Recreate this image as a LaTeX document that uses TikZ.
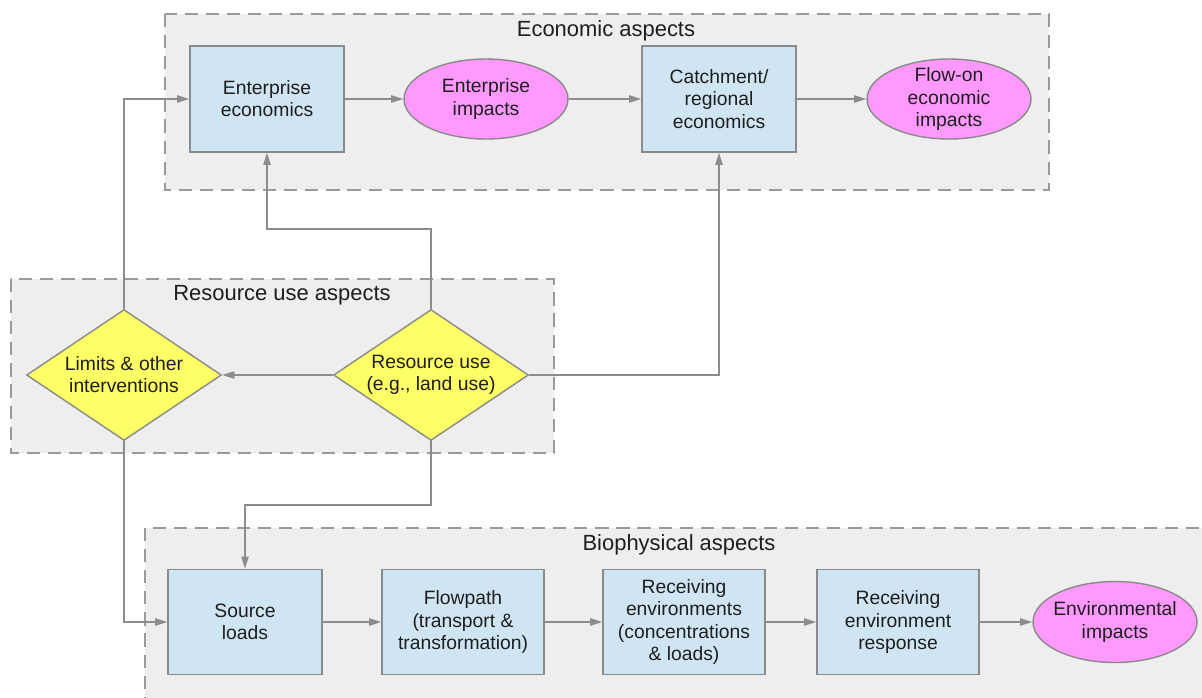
\documentclass[tikz,border=0pt]{standalone}
\usepackage{fontspec}
\setmainfont{Liberation Sans}
\usetikzlibrary{shapes.geometric,arrows.meta}

\definecolor{groupfill}{HTML}{EEEEEE}
\definecolor{groupline}{HTML}{9A9A9A}
\definecolor{linkgray}{HTML}{8C8C8C}
\definecolor{shapeline}{HTML}{8A8A8A}
\definecolor{boxblue}{HTML}{CFE5F3}
\definecolor{impactpink}{HTML}{FF99FF}
\definecolor{choiceyellow}{HTML}{FFFF66}
\definecolor{inktext}{HTML}{1E1E1E}

\begin{document}
\begin{tikzpicture}[x=0.02cm,y=-0.02cm,
  font=\fontsize{11}{12.6}\selectfont, text=inktext,
  group/.style={draw=groupline, fill=groupfill, line width=0.8pt,
    dash pattern=on 7.5pt off 4.5pt},
  grouptitle/.style={font=\fontsize{12.5}{14}\selectfont},
  procbox/.style={draw=shapeline, fill=boxblue, line width=0.8pt,
    minimum width=3.08cm, minimum height=2.12cm, align=center, inner sep=0pt},
  widebox/.style={procbox, minimum width=3.24cm},
  impact/.style={ellipse, draw=shapeline, fill=impactpink, line width=0.8pt,
    minimum width=3.28cm, minimum height=1.6cm, inner sep=0pt},
  choice/.style={diamond, draw=shapeline, fill=choiceyellow, line width=0.8pt,
    minimum width=3.9cm, minimum height=2.62cm, inner sep=0pt},
  inlabel/.style={align=center},
  link/.style={draw=linkgray, line width=0.8pt,
    -{Triangle[length=7pt,width=4.2pt]}}]

\useasboundingbox (0,0) rectangle (1202,697);
\clip (0,0) rectangle (1202,697);

% aspect groups
\draw[group] (165,14) rectangle (1049,190);
\node[grouptitle] (econtitle) at (606,31) {Economic aspects};
\draw[group] (11,279) rectangle (554,453);
\node[grouptitle] (restitle) at (282,295) {Resource use aspects};
\draw[group] (145,528) rectangle (1240,740);
\node[grouptitle] (biotitle) at (679,545) {Biophysical aspects};

% economic aspects
\node[procbox] (ee) at (267,99) {Enterprise\\economics};
\node[impact] (ei) at (486,99) {};
\node[inlabel] at (ei) {Enterprise\\impacts};
\node[procbox] (cr) at (719,99) {Catchment/\\regional\\economics};
\node[impact] (fo) at (949,99) {};
\node[inlabel] at (fo) {Flow-on\\economic\\impacts};

% resource use aspects
\node[choice] (lim) at (124,375) {};
\node[inlabel] at (lim) {Limits \& other\\interventions};
\node[choice] (ru) at (431,375) {};
\node[inlabel] at (ru) {Resource use\\(e.g., land use)};

% biophysical aspects
\node[procbox, minimum height=2.1cm] (sl) at (245,622) {Source\\loads};
\node[widebox, minimum height=2.1cm] (fp) at (463,622) {Flowpath\\(transport \&\\transformation)};
\node[widebox, minimum height=2.1cm] (re) at (684,622) {Receiving\\environments\\(concentrations\\\& loads)};
\node[widebox, minimum height=2.1cm] (rr) at (898,622) {Receiving\\environment\\response};
\node[impact, minimum height=1.62cm] (env) at (1115,622) {};
\node[inlabel] at (env) {Environmental\\impacts};

% bend points
\coordinate (upbend) at (0,229);
\coordinate (downbend) at (0,505);

% connectors
\draw[link] (ee) -- (ei);
\draw[link] (ei) -- (cr);
\draw[link] (cr) -- (fo);
\draw[link] (ru) -- (lim);
\draw[link] (lim.north) |- (ee.west);
\draw[link] (ru.north) -- (ru.north |- upbend) -| (ee.south);
\draw[link] (ru.east) -| (cr.south);
\draw[link] (lim.south) |- (sl.west);
\draw[link] (ru.south) -- (ru.south |- downbend) -| (sl.north);
\draw[link] (sl) -- (fp);
\draw[link] (fp) -- (re);
\draw[link] (re) -- (rr);
\draw[link] (rr) -- (env);
\end{tikzpicture}
\end{document}
